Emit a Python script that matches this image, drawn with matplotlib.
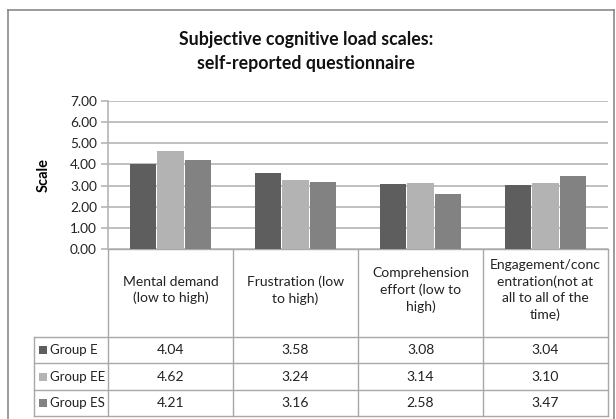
import matplotlib
matplotlib.use("Agg")
import matplotlib.pyplot as plt
from matplotlib.lines import Line2D
from matplotlib.patches import Rectangle
import numpy as np

categories = ["Mental demand\n(low to high)", "Frustration (low\nto high)",
              "Comprehension\neffort (low to\nhigh)",
              "Engagement/conc\nentration(not at\nall to all of the\ntime)"]
groups = ["Group E", "Group EE", "Group ES"]
group_e = [4.04, 3.58, 3.08, 3.04]
group_ee = [4.62, 3.24, 3.14, 3.10]
group_es = [4.21, 3.16, 2.58, 3.47]
yticks = [0, 1, 2, 3, 4, 5, 6, 7]

colors = ["#5e5e5e", "#b3b3b3", "#828282"]
series = [group_e, group_ee, group_es]

plt.rcParams['font.family'] = ['Lato', 'DejaVu Sans']

W, H = 616, 419
fig = plt.figure(figsize=(W / 100, H / 100), dpi=100)
fig.patch.set_facecolor("white")

# pixel geometry
px_l, px_r, px_t, px_b = 108, 608, 101, 249
ax = fig.add_axes([px_l / W, 1 - px_b / H, (px_r - px_l) / W, (px_b - px_t) / H])
n = len(categories)
x = np.arange(n)
bw = 0.22
for i, (vals, c) in enumerate(zip(series, colors)):
    ax.bar(x + (i - 1) * bw, vals, width=bw * 0.97, color=c, zorder=3, linewidth=0)
ax.set_xlim(-0.5, n - 0.5)
ax.set_ylim(0, 7)
ax.set_yticks(yticks)
ax.set_yticklabels([f"{v:.2f}" for v in yticks], fontsize=9.8, color="#222222")
ax.yaxis.grid(True, color="#b5b5b5", linewidth=1.2, zorder=0)
ax.set_xticks([])
for s in ["top", "right", "bottom"]:
    ax.spines[s].set_visible(False)
ax.spines["left"].set_color("#b5b5b5")
ax.spines["left"].set_linewidth(1.2)
ax.tick_params(axis="y", length=5, width=1.2, color="#b5b5b5", pad=3)
ax.set_ylabel("Scale", fontsize=10.5, fontweight="bold", labelpad=14)

# overlay axes in pixel coordinates for title / table
ov = fig.add_axes([0, 0, 1, 1], zorder=-1)
ov.set_xlim(0, W)
ov.set_ylim(H, 0)
ov.axis("off")

lc = "#a8a8a8"
# outer chart frame
ov.add_line(Line2D([8, 8], [10, H], color="#8a8a8a", lw=1.2))
ov.add_line(Line2D([8, 614], [10, 10], color="#8a8a8a", lw=1.2))
ov.add_line(Line2D([614, 614], [10, H], color="#8a8a8a", lw=1.2))

ov.text(306, 40, "Subjective cognitive load scales:", ha="center", va="center",
        fontsize=12.8, fontweight="bold", color="#111111")
ov.text(306, 64, "self-reported questionnaire", ha="center", va="center",
        fontsize=12.8, fontweight="bold", color="#111111")

# table
col_w = (px_r - px_l) / n
row_tops = [337, 363, 390, 416]
tab_l = 34
for k in range(n + 1):
    xx = px_l + k * col_w
    ov.add_line(Line2D([xx, xx], [px_b, row_tops[-1]], color=lc, lw=1))
ov.add_line(Line2D([px_l, px_r], [px_b, px_b], color=lc, lw=1))
for yy in row_tops:
    ov.add_line(Line2D([tab_l, px_r], [yy, yy], color=lc, lw=1))
ov.add_line(Line2D([tab_l, tab_l], [row_tops[0], row_tops[-1]], color=lc, lw=1))

for k, cat in enumerate(categories):
    ov.text(px_l + (k + 0.5) * col_w, 290, cat, ha="center", va="center",
            fontsize=10, color="#222222", linespacing=1.4)

for r, (g, vals, c) in enumerate(zip(groups, series, colors)):
    yc = (row_tops[r] + row_tops[r + 1]) / 2
    ov.add_patch(Rectangle((39, yc - 4), 8, 8, color=c, lw=0))
    ov.text(50, yc, g, ha="left", va="center", fontsize=9.5, color="#222222")
    for k, v in enumerate(vals):
        ov.text(px_l + (k + 0.5) * col_w, yc, f"{v:.2f}", ha="center",
                va="center", fontsize=10, color="#222222")

fig.savefig("out.png", dpi=100, facecolor="white")
